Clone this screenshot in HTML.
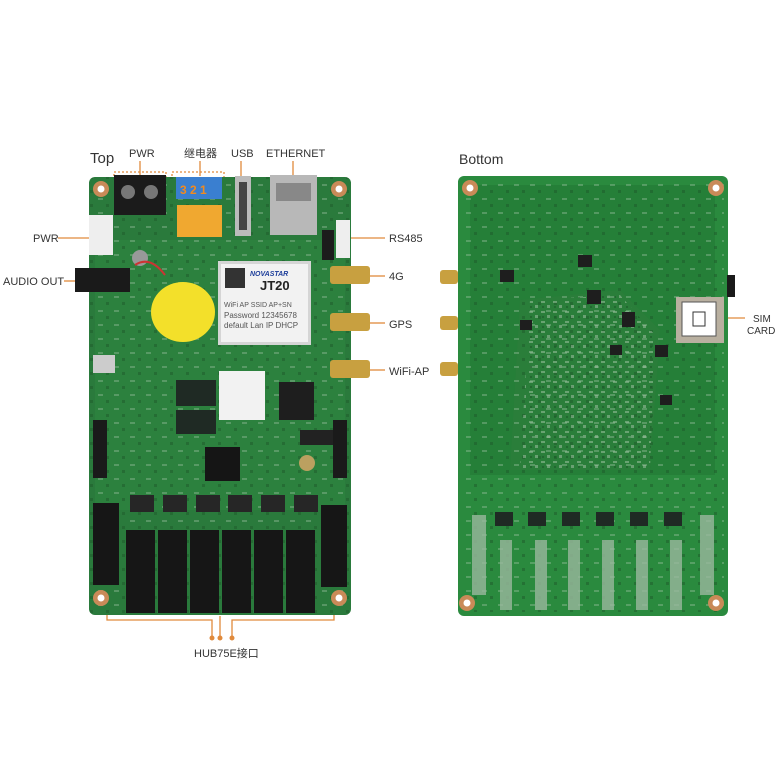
<!DOCTYPE html>
<html><head><meta charset="utf-8"><style>
html,body{margin:0;padding:0;background:#fff}
svg{display:block}
text{font-family:"Liberation Sans","Noto Sans CJK SC",sans-serif;fill:#333}
</style></head><body>
<svg width="780" height="780" viewBox="0 0 780 780" xmlns="http://www.w3.org/2000/svg">
<defs>
<pattern id="pcb" width="12" height="10" patternUnits="userSpaceOnUse">
<rect x="1" y="1" width="4" height="2" fill="#9cc0a0" opacity=".55"/>
<rect x="7" y="5" width="3" height="3" fill="#b8ccb8" opacity=".45"/>
<rect x="2" y="6" width="2" height="2" fill="#1d5a2a" opacity=".6"/>
</pattern>
<pattern id="pcb2" width="16" height="14" patternUnits="userSpaceOnUse">
<rect x="2" y="2" width="5" height="2" fill="#9cc0a0" opacity=".4"/>
<rect x="10" y="8" width="3" height="3" fill="#1d5a2a" opacity=".5"/>
</pattern>
</defs>
<!-- labels -->
<text x="90" y="163" font-size="15">Top</text>
<text x="129" y="157" font-size="11">PWR</text>
<text x="184" y="157" font-size="11">继电器</text>
<text x="231" y="157" font-size="11">USB</text>
<text x="266" y="157" font-size="11">ETHERNET</text>
<text x="459" y="164" font-size="14">Bottom</text>
<text x="33" y="242" font-size="11">PWR</text>
<text x="3" y="285" font-size="11">AUDIO OUT</text>
<text x="389" y="242" font-size="11">RS485</text>
<text x="389" y="280" font-size="11">4G</text>
<text x="389" y="328" font-size="11">GPS</text>
<text x="389" y="375" font-size="11">WiFi-AP</text>
<text x="753" y="322" font-size="10">SIM</text>
<text x="747" y="334" font-size="10">CARD</text>
<text x="194" y="657" font-size="11">HUB75E接口</text>

<!-- orange connectors -->
<g stroke="#e08a3c" stroke-width="1.3" fill="none">
<line x1="140" y1="161" x2="140" y2="176"/>
<line x1="200" y1="161" x2="200" y2="176"/>
<line x1="241" y1="161" x2="241" y2="176"/>
<line x1="293" y1="161" x2="293" y2="176"/>
<line x1="58" y1="238" x2="90" y2="238"/>
<line x1="64" y1="281" x2="78" y2="281"/>
<line x1="350" y1="238" x2="385" y2="238"/>
<line x1="370" y1="276" x2="385" y2="276"/>
<line x1="370" y1="323" x2="385" y2="323"/>
<line x1="370" y1="370" x2="385" y2="370"/>
<line x1="724" y1="318" x2="745" y2="318"/>
<polyline points="107,600 107,620 212,620 212,637"/>
<polyline points="220,616 220,637"/>
<polyline points="334,600 334,620 232,620 232,637"/>
<rect x="114" y="172" width="52" height="44" stroke-dasharray="2,2"/>
<rect x="172" y="172" width="52" height="68" stroke-dasharray="2,2"/>
<rect x="124" y="528" width="194" height="86" stroke-dasharray="2,2"/>
</g>
<g fill="#e08a3c"><circle cx="212" cy="638" r="2.5"/><circle cx="220" cy="638" r="2.5"/><circle cx="232" cy="638" r="2.5"/></g>

<!-- TOP BOARD -->
<rect x="89" y="177" width="262" height="438" rx="6" fill="#2a7a3c"/>
<rect x="95" y="240" width="250" height="270" fill="#2f8640" opacity=".6"/>
<rect x="89" y="177" width="262" height="438" rx="6" fill="url(#pcb2)"/>
<g fill="#c98a58"><circle cx="101" cy="189" r="8"/><circle cx="339" cy="189" r="8"/><circle cx="101" cy="598" r="8"/><circle cx="339" cy="598" r="8"/></g>
<g fill="#fff"><circle cx="101" cy="189" r="3.5"/><circle cx="339" cy="189" r="3.5"/><circle cx="101" cy="598" r="3.5"/><circle cx="339" cy="598" r="3.5"/></g>
<rect x="114" y="175" width="52" height="40" fill="#1b1b1b"/>
<circle cx="128" cy="192" r="7" fill="#777"/><circle cx="151" cy="192" r="7" fill="#777"/>
<rect x="176" y="177" width="46" height="22" fill="#3a7fd0"/>
<text x="180" y="194" font-size="12" style="fill:#f08a20;font-weight:bold">3 2 1</text>
<rect x="177" y="205" width="45" height="32" fill="#f0a830"/>
<rect x="235" y="176" width="16" height="60" fill="#bbb"/><rect x="239" y="182" width="8" height="48" fill="#444"/>
<rect x="270" y="175" width="47" height="60" fill="#b8b8b8"/><rect x="276" y="183" width="35" height="18" fill="#888"/>
<rect x="89" y="215" width="24" height="40" fill="#eee"/>
<rect x="336" y="220" width="14" height="38" fill="#eee"/>
<rect x="322" y="230" width="12" height="30" fill="#1c1c1c"/>
<rect x="75" y="268" width="55" height="24" fill="#1a1a1a"/>
<circle cx="140" cy="258" r="8" fill="#999"/>
<path d="M135 265 Q150 255 165 275" stroke="#c33" stroke-width="2" fill="none"/>
<ellipse cx="183" cy="312" rx="32" ry="30" fill="#f3e02a"/>
<rect x="218" y="261" width="93" height="84" fill="#d5d5d5"/>
<rect x="221" y="264" width="87" height="78" fill="#f2f2f2"/>
<rect x="225" y="268" width="20" height="20" fill="#333"/>
<text x="250" y="276" font-size="7" style="fill:#1d3e9a;font-style:italic;font-weight:bold">NOVASTAR</text>
<text x="260" y="290" font-size="13" style="fill:#222;font-weight:bold">JT20</text>
<text x="224" y="307" font-size="7" style="fill:#555">WiFi AP SSID   AP+SN</text>
<text x="224" y="318" font-size="8" style="fill:#555">Password   12345678</text>
<text x="224" y="328" font-size="8" style="fill:#555">default Lan IP  DHCP</text>
<g fill="#c8a040"><rect x="330" y="266" width="40" height="18" rx="3"/><rect x="330" y="313" width="40" height="18" rx="3"/><rect x="330" y="360" width="40" height="18" rx="3"/></g>
<rect x="93" y="355" width="22" height="18" fill="#ccc"/>
<rect x="219" y="371" width="46" height="49" fill="#f2f2f2"/>
<rect x="176" y="380" width="40" height="26" fill="#1f2a24"/><rect x="176" y="410" width="40" height="24" fill="#1f2a24"/>
<rect x="279" y="382" width="35" height="38" fill="#1e1e1e"/>
<rect x="205" y="447" width="35" height="34" fill="#151515"/>
<rect x="300" y="430" width="35" height="15" fill="#222"/>
<circle cx="307" cy="463" r="8" fill="#bba060"/>
<rect x="93" y="420" width="14" height="58" fill="#1a1a1a"/><rect x="333" y="420" width="14" height="58" fill="#1a1a1a"/>
<g fill="#262626"><rect x="130" y="495" width="24" height="17"/><rect x="163" y="495" width="24" height="17"/><rect x="196" y="495" width="24" height="17"/><rect x="228" y="495" width="24" height="17"/><rect x="261" y="495" width="24" height="17"/><rect x="294" y="495" width="24" height="17"/></g>
<g fill="#161616"><rect x="93" y="503" width="26" height="82"/><rect x="321" y="505" width="26" height="82"/>
<rect x="126" y="530" width="29" height="83"/><rect x="158" y="530" width="29" height="83"/><rect x="190" y="530" width="29" height="83"/><rect x="222" y="530" width="29" height="83"/><rect x="254" y="530" width="29" height="83"/><rect x="286" y="530" width="29" height="83"/></g>

<!-- BOTTOM BOARD -->
<rect x="458" y="176" width="270" height="440" rx="6" fill="#2a8a3e"/>
<rect x="470" y="185" width="245" height="290" fill="#247a36" opacity=".7"/>
<path d="M520 300 L620 290 L660 330 L650 470 L510 470 Z" fill="#2c7e3b" opacity=".8"/>
<rect x="462" y="180" width="262" height="432" fill="url(#pcb2)"/>
<path d="M530 300 L620 295 L655 335 L650 470 L520 470 Z" fill="url(#pcb)"/>
<g fill="#c98a58"><circle cx="470" cy="188" r="8"/><circle cx="716" cy="188" r="8"/><circle cx="467" cy="603" r="8"/><circle cx="716" cy="603" r="8"/></g>
<g fill="#fff"><circle cx="470" cy="188" r="3.5"/><circle cx="716" cy="188" r="3.5"/><circle cx="467" cy="603" r="3.5"/><circle cx="716" cy="603" r="3.5"/></g>
<g fill="#c8a040"><rect x="440" y="270" width="18" height="14" rx="3"/><rect x="440" y="316" width="18" height="14" rx="3"/><rect x="440" y="362" width="18" height="14" rx="3"/></g>
<rect x="676" y="297" width="48" height="46" fill="#b9b0a0"/>
<rect x="682" y="302" width="34" height="34" fill="#fff" stroke="#555"/>
<rect x="693" y="312" width="12" height="14" fill="none" stroke="#333"/>
<rect x="727" y="275" width="8" height="22" fill="#1a1a1a"/>
<g fill="#1e1e1e"><rect x="500" y="270" width="14" height="12"/><rect x="578" y="255" width="14" height="12"/><rect x="587" y="290" width="14" height="14"/><rect x="622" y="312" width="13" height="15"/><rect x="655" y="345" width="13" height="12"/><rect x="520" y="320" width="12" height="10"/><rect x="610" y="345" width="12" height="10"/><rect x="660" y="395" width="12" height="10"/></g>
<g fill="#1f2a24"><rect x="495" y="512" width="18" height="14"/><rect x="528" y="512" width="18" height="14"/><rect x="562" y="512" width="18" height="14"/><rect x="596" y="512" width="18" height="14"/><rect x="630" y="512" width="18" height="14"/><rect x="664" y="512" width="18" height="14"/></g>
<g fill="#9ab89e" opacity=".8"><rect x="472" y="515" width="14" height="80"/><rect x="700" y="515" width="14" height="80"/>
<rect x="500" y="540" width="12" height="70"/><rect x="535" y="540" width="12" height="70"/><rect x="568" y="540" width="12" height="70"/><rect x="602" y="540" width="12" height="70"/><rect x="636" y="540" width="12" height="70"/><rect x="670" y="540" width="12" height="70"/></g>
</svg>
</body></html>
